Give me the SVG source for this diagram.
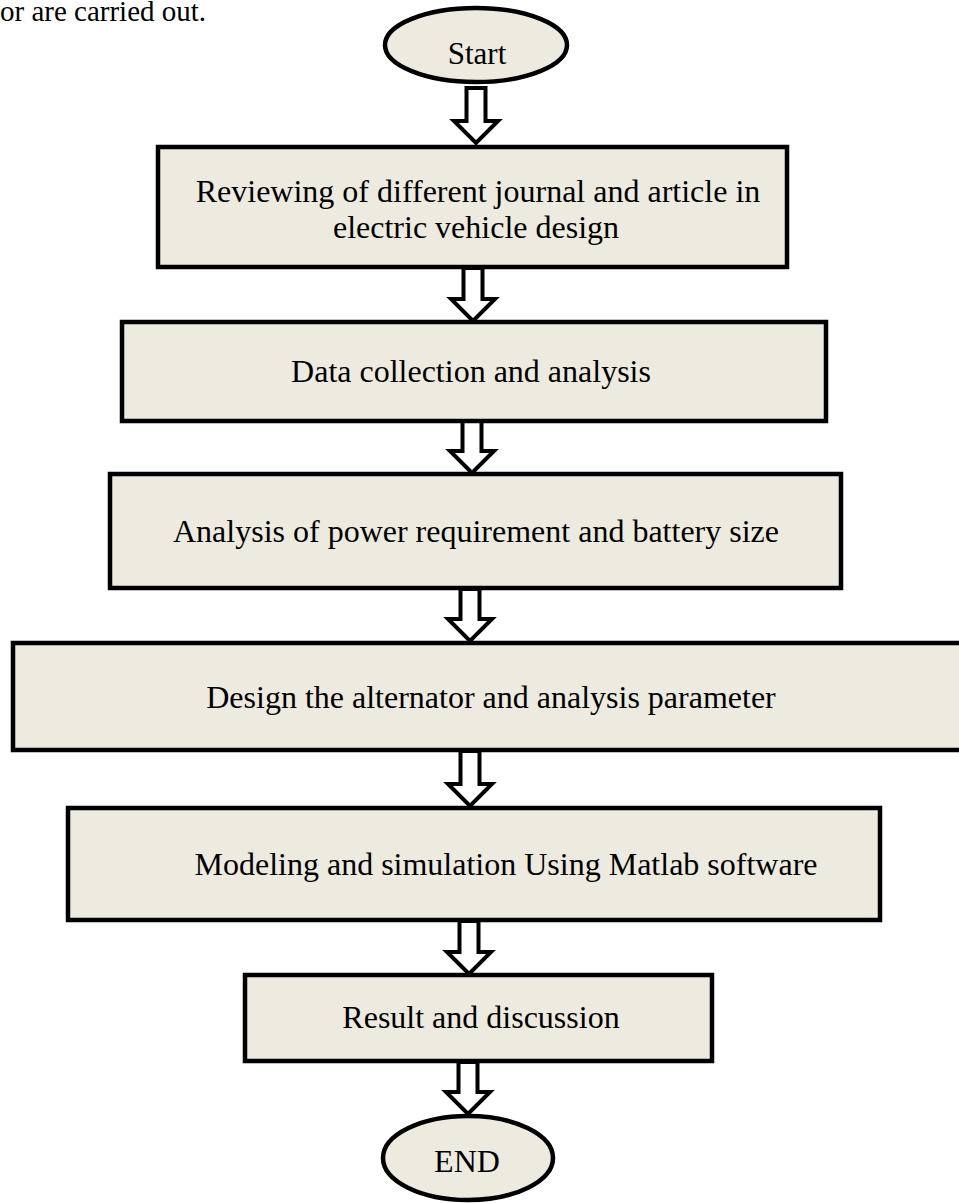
<svg xmlns="http://www.w3.org/2000/svg" width="959" height="1203" viewBox="0 0 959 1203">
<style>
.box{fill:#EDEBE0;stroke:#000;stroke-width:4.5}
.arr{fill:#fff;stroke:#000;stroke-width:4;stroke-linejoin:miter}
text{font-family:"Liberation Serif","Times New Roman",serif;font-size:32px;fill:#000}
.c{text-anchor:middle}
</style>
<rect width="959" height="1203" fill="#fff"/>
<text x="0" y="21" style="font-size:29px">or are carried out.</text>
<g id="connectors">
<polygon class="arr" points="466.5,88 485.5,88 485.5,121 498,121 476,143 454,121 466.5,121"/>
<polygon class="arr" points="463.5,268 482.5,268 482.5,299 495,299 473,321 451,299 463.5,299"/>
<polygon class="arr" points="462.5,421 481.5,421 481.5,451 494,451 472,473 450,451 462.5,451"/>
<polygon class="arr" points="460.5,589 479.5,589 479.5,619 492,619 470,641 448,619 460.5,619"/>
<polygon class="arr" points="460.5,751 479.5,751 479.5,784 492,784 470,806 448,784 460.5,784"/>
<polygon class="arr" points="459.5,921 478.5,921 478.5,952 491,952 469,974 447,952 459.5,952"/>
<polygon class="arr" points="458.5,1062 477.5,1062 477.5,1092 490,1092 468,1114 446,1092 458.5,1092"/>
</g>
<g id="start">
<ellipse class="box" cx="476" cy="45" rx="91" ry="37"/>
<text class="c" x="477" y="64" style="font-size:31px">Start</text>
</g>
<g id="review">
<rect class="box" x="158" y="147" width="629" height="120"/>
<text class="c" x="478" y="202">Reviewing of different journal and article in</text>
<text class="c" x="476" y="238">electric vehicle design</text>
</g>
<g id="data">
<rect class="box" x="122" y="322" width="704" height="99"/>
<text class="c" x="471" y="382">Data collection and analysis</text>
</g>
<g id="power">
<rect class="box" x="110" y="474" width="731" height="114"/>
<text class="c" x="476" y="542">Analysis of power requirement and battery size</text>
</g>
<g id="design">
<rect class="box" x="13" y="643" width="962" height="107"/>
<text class="c" x="491" y="708">Design the alternator and analysis parameter</text>
</g>
<g id="model">
<rect class="box" x="68" y="808" width="812" height="112"/>
<text class="c" x="506" y="875">Modeling and simulation Using Matlab software</text>
</g>
<g id="result">
<rect class="box" x="245" y="975" width="467" height="86"/>
<text class="c" x="481" y="1028">Result and discussion</text>
</g>
<g id="end">
<ellipse class="box" cx="468" cy="1158" rx="85" ry="42"/>
<text class="c" x="467" y="1172">END</text>
</g>
</svg>
